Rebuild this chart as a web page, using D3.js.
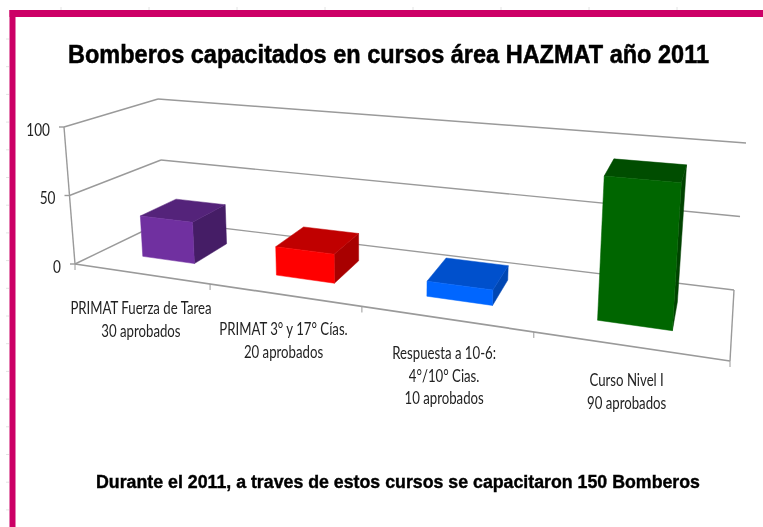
<!DOCTYPE html>
<html><head><meta charset="utf-8">
<script src="https://cdn.jsdelivr.net/npm/d3@7/dist/d3.min.js"></script>
<style>html,body{margin:0;padding:0;background:#fff}svg{display:block;filter:blur(0.35px)}</style>
</head><body><svg id="c" width="763" height="527"></svg>
<script>
const categories = ["PRIMAT Fuerza de Tarea","PRIMAT 3° y 17° Cías.","Respuesta a 10-6:","Curso Nivel I"];
const labelLines = [["PRIMAT Fuerza de Tarea","30 aprobados"],["PRIMAT 3° y 17° Cías.","20 aprobados"],["Respuesta a 10-6:","4°/10° Cias.","10 aprobados"],["Curso Nivel I","90 aprobados"]];
const values = [30,20,10,90];
const yTicks = [0,50,100];
const faceFront = ["#7030A0","#FF0000","#0066FF","#006600"];
const faceTop = ["#54237A","#C00000","#0050CC","#004D00"];
const faceSide = ["#451D66","#A80000","#0047B3","#004300"];
const title = "Bomberos capacitados en cursos área HAZMAT año 2011";
const footer = "Durante el 2011, a traves de estos cursos se capacitaron 150 Bomberos";

// projection box of the 3D plot: floor and top corners
const FL0=[75,264], FL1=[64,127], FR0=[730,361], FR1=[742,184];
const BL0=[164,221], BL1=[158,99], BR0=[734,290], BR1=[746,143];
const persp = 1.283;

const x = d3.scaleBand().domain(categories).range([0.006,1.0]).paddingInner(0.6).paddingOuter(0.3);
const y = d3.scaleLinear().domain([0,100]).range([0,1]);
const warp = u => u/(u+persp*(1-u));
const mix = (a,b,t)=>[a[0]+(b[0]-a[0])*t, a[1]+(b[1]-a[1])*t];
function P(u,v,w){
  const t = warp(u);
  const f = mix(mix(FL0,FR0,t),mix(FL1,FR1,t),v);
  const b = mix(mix(BL0,BR0,t),mix(BL1,BR1,t),v);
  return mix(f,b,w);
}
const svg = d3.select("#c");
const line = d3.line();
const poly = (pts,fill)=>svg.append("path").attr("d",line(pts)+"Z").attr("fill",fill).attr("stroke",fill).attr("stroke-width",0.5);
const seg = (a,b,w=1.4,c="#9a9a9a")=>svg.append("path").attr("d",line([a,b])).attr("fill","none").attr("stroke",c).attr("stroke-width",w);
// text narrowed horizontally, the way the stretched source picture is
const narrowText = (px,py,anchor,size,f,s)=>svg.append("text")
  .attr("transform",`translate(${px},${py}) scale(${f},1)`).attr("text-anchor",anchor)
  .attr("font-family","Lato").attr("font-size",size).attr("fill","#222").text(s);

// faint page ruler marks
d3.range(61,763,88).forEach(px=>seg([px,7],[px,10],1,"#e2e2e2"));
d3.range(39,527,27.7).forEach(py=>seg([6,py],[9,py],1,"#e2e2e2"));

// page frame
svg.append("rect").attr("x",9.5).attr("y",10).attr("width",754).attr("height",7).attr("fill","#CC0066");
svg.append("rect").attr("x",9.5).attr("y",10).attr("width",6).attr("height",517).attr("fill","#CC0066");

// walls
yTicks.forEach(t=>{
  const v=y(t);
  seg(P(0,v,1),P(1,v,1));
  seg(P(0,v,0),P(0,v,1));
  const a=P(0,v,0); seg(a,[a[0]-5,a[1]]);
});
seg(P(0,0,0),P(0,1,0));
seg(P(0,0,0),P(1,0,0),1.7);
seg(P(1,0,0),P(1,0,1));
d3.range(0,5).forEach(i=>{const a=P(i/4,0,0); seg(a,[a[0],a[1]+6],1);});

// bars
const w0=0.31,w1=0.73;
categories.forEach((c,i)=>{
  const u0=x(c),u1=u0+x.bandwidth(),v=y(values[i]);
  poly([P(u1,0,w0),P(u1,0,w1),P(u1,v,w1),P(u1,v,w0)],faceSide[i]);
  poly([P(u0,v,w0),P(u1,v,w0),P(u1,v,w1),P(u0,v,w1)],faceTop[i]);
  poly([P(u0,0,w0),P(u1,0,w0),P(u1,v,w0),P(u0,v,w0)],faceFront[i]);
});

// y labels
yTicks.forEach(t=>{
  const a=P(0,y(t),0);
  narrowText(a[0]-14,a[1]+8.5,"end",17,0.8,t);
});
// category labels
categories.forEach((c,i)=>{
  const a=P(x(c)+x.bandwidth()/2,0,0);
  labelLines[i].forEach((s,j)=>narrowText(a[0]-2.5,a[1]+40+j*22.5,"middle",16.5,0.8,s));
});
svg.append("text").attr("x",388.5).attr("y",63).attr("text-anchor","middle").attr("font-family","Liberation Sans").attr("font-weight","bold").attr("font-size",25).attr("fill","#000").attr("stroke","#000").attr("stroke-width",0.5).attr("textLength",641).attr("lengthAdjust","spacingAndGlyphs").text(title);
svg.append("text").attr("x",398).attr("y",488).attr("text-anchor","middle").attr("font-family","Liberation Sans").attr("font-weight","bold").attr("font-size",18).attr("fill","#000").attr("stroke","#000").attr("stroke-width",0.4).attr("textLength",604).attr("lengthAdjust","spacingAndGlyphs").text(footer);
</script></body></html>
